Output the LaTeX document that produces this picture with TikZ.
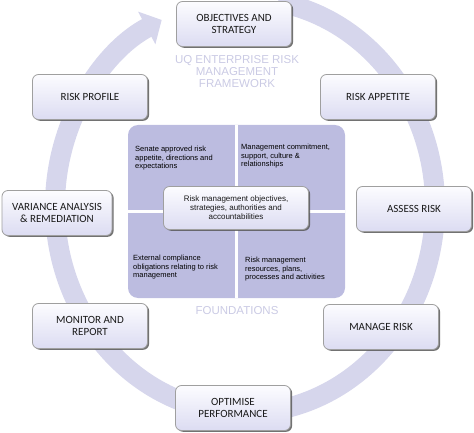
\documentclass[tikz,border=0pt]{standalone}
\usepackage{fontspec}
\setmainfont{Liberation Sans}
\newfontfamily\boxfont{Carlito}
\usetikzlibrary{arrows.meta,shadows}

\definecolor{ringcol}{RGB}{214,214,236}
\definecolor{quadcol}{RGB}{188,188,224}
\definecolor{boxtop}{RGB}{252,252,255}
\definecolor{boxbot}{RGB}{220,220,242}
\definecolor{titlecol}{RGB}{202,202,228}

\begin{document}
\begin{tikzpicture}[
    x=1pt, y=1pt,
    >=Latex, % Set default arrow tip style
    stepbox/.style={draw=gray!75, line width=0.8pt, rounded corners=6pt,
        top color=boxtop, bottom color=boxbot,
        minimum width=115pt, minimum height=45pt, align=center,
        font=\boxfont\fontsize{11}{12.5}\selectfont, text=black!90,
        drop shadow={shadow xshift=1.6pt, shadow yshift=-1.3pt, fill=black!65, opacity=0.85}},
    quadtext/.style={anchor=north west, align=left, inner sep=0pt,
        font=\fontsize{7.5}{8.5}\selectfont},
    title/.style={text=titlecol, align=center, font=\fontsize{11.5}{12}\selectfont}
]
    \useasboundingbox (0,0) rectangle (474,-433);

    % Cycle ring with arrow head
    \draw[ringcol, line width=20pt, -{Triangle[width=36pt,length=17pt]}]
        (245,-206) ++(80:190 and 207)
        arc[start angle=80, end angle=-244, x radius=190, y radius=207];

    % Foundations square
    \node[fill=quadcol, rounded corners=10pt, minimum width=217pt, minimum height=173pt] (base) at (236.5,-211.5) {};
    \draw[white, line width=3pt] (base.north) -- (base.south);
    \draw[white, line width=3pt] (base.west) -- (base.east);

    % Quadrant texts
    \node[quadtext] (senate) at (135,-146) {Senate approved risk\\appetite, directions and\\expectations};
    \node[quadtext] (commit) at (241,-144) {Management commitment,\\support, culture \&\\relationships};
    \node[quadtext] (extern) at (133,-255) {External compliance\\obligations relating to risk\\management};
    \node[quadtext] (resour) at (245,-257) {Risk management\\resources, plans,\\processes and activities};

    % Centre box
    \node[stepbox, font=\fontsize{8}{9}\selectfont, minimum width=145pt, minimum height=43pt] (core) at (236,-208)
        {Risk management objectives,\\strategies, authorities and\\accountabilities};

    % Titles
    \node[title] (frame) at (237,-72) {UQ ENTERPRISE RISK\\MANAGEMENT\\FRAMEWORK};
    \node[title] (found) at (237,-311) {FOUNDATIONS};

    % Cycle steps
    \node[stepbox] (objectives) at (234,-24) {OBJECTIVES AND\\STRATEGY};
    \node[stepbox] (appetite) at (378,-97) {RISK APPETITE};
    \node[stepbox] (assess) at (414,-209) {ASSESS RISK};
    \node[stepbox] (manage) at (381,-327) {MANAGE RISK};
    \node[stepbox] (optimise) at (233,-408) {OPTIMISE\\PERFORMANCE};
    \node[stepbox] (monitor) at (90,-326) {MONITOR AND\\REPORT};
    \node[stepbox, minimum width=110pt] (variance) at (57,-213) {VARIANCE ANALYSIS\\\& REMEDIATION};
    \node[stepbox] (profile) at (90,-97) {RISK PROFILE};

\end{tikzpicture}
\end{document}
